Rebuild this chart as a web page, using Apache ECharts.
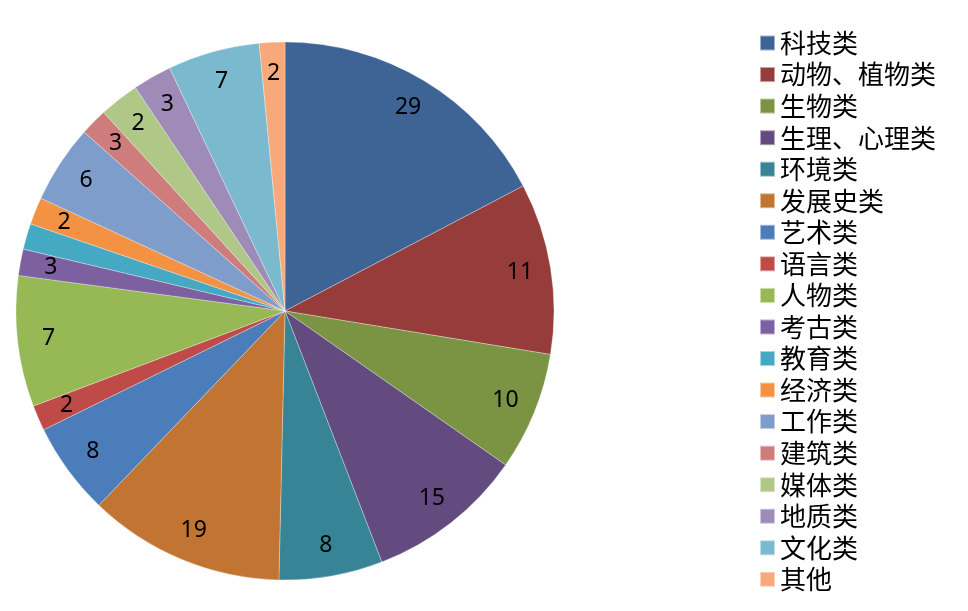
<!DOCTYPE html>
<html><head><meta charset="utf-8">
<script src="https://cdn.jsdelivr.net/npm/echarts@6/dist/echarts.min.js"></script>
<style>html,body{margin:0;padding:0;background:#fff}#c{width:968px;height:611px}</style>
</head><body><div id="c"></div>
<script>
const categories = ['科技类','动物、植物类','生物类','生理、心理类','环境类','发展史类','艺术类','语言类','人物类','考古类','教育类','经济类','工作类','建筑类','媒体类','地质类','文化类','其他'];
// numbers printed on the slices
const counts = [29, 11, 10, 15, 8, 19, 8, 2, 7, 3, 2, 2, 6, 3, 2, 3, 7, 2];
// slice sizes as drawn in the picture (degrees of arc)
const shares = [62.3, 37.0, 25.6, 34.0, 22.4, 42.5, 20.0, 5.5, 28.3, 5.7, 5.6, 5.9, 16.9, 5.9, 8.6, 8.4, 19.9, 5.5];
const colors = ['#3E6496','#963C3B','#7A9444','#634B7F','#378496','#C27532','#4A7DBA','#BE4B48','#97B955','#7D60A0','#46A9C4','#F39242','#7F9DCB','#CE7D7C','#B0C887','#9E8BB8','#7BB9CE','#F8A97A'];

const mainData = categories.map((n, i) => ({ name: n, value: shares[i], itemStyle: { color: colors[i] } }));
const labelData = categories.map((n, i) => ({ name: n, value: shares[i], count: counts[i] }));

const chart = echarts.init(document.getElementById('c'), null, { renderer: 'canvas' });
chart.setOption({
  animation: false,
  backgroundColor: '#fff',
  legend: {
    orient: 'vertical',
    left: 759,
    top: 30,
    padding: 0,
    itemWidth: 15,
    itemHeight: 15,
    itemGap: 5.55,
    icon: 'rect',
    data: categories.map((n, i) => ({ name: n, itemStyle: { color: colors[i] } })),
    textStyle: { fontFamily: 'Noto Sans CJK SC', fontSize: 26, lineHeight: 25, color: '#000', padding: [0, 0, 0, 0] },
    selectedMode: false
  },
  series: [
    {
      type: 'pie',
      center: [285, 311],
      radius: [0, 269],
      startAngle: 90,
      clockwise: true,
      avoidLabelOverlap: false,
      label: { show: false },
      labelLine: { show: false },
      itemStyle: { borderColor: 'rgba(255,255,255,0.5)', borderWidth: 0.6 },
      emphasis: { disabled: true },
      data: mainData
    },
    {
      type: 'pie',
      center: [285, 311],
      radius: [201, 269],
      startAngle: 90,
      clockwise: true,
      silent: true,
      avoidLabelOverlap: false,
      itemStyle: { color: 'rgba(0,0,0,0)' },
      label: {
        show: true,
        position: 'inside',
        formatter: p => String(p.data.count),
        fontFamily: 'Noto Sans',
        fontSize: 23,
        color: '#000'
      },
      labelLine: { show: false },
      emphasis: { disabled: true },
      data: labelData
    }
  ]
});
</script></body></html>
